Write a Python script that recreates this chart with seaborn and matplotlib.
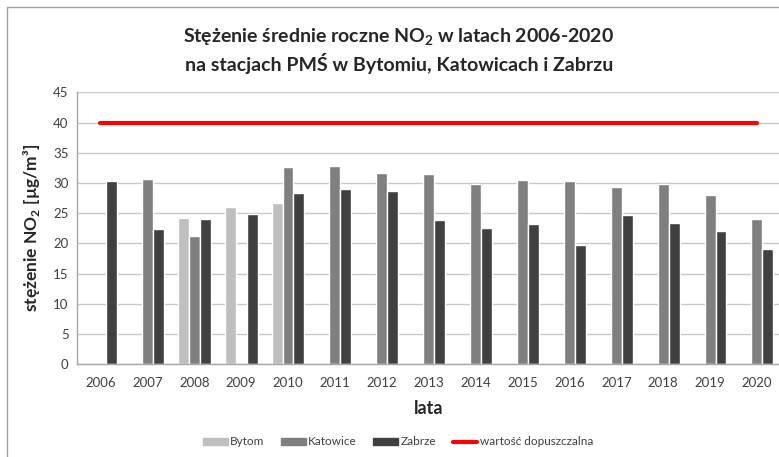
import matplotlib
matplotlib.use('Agg')
import matplotlib.pyplot as plt
import matplotlib.patches as mpatches
from matplotlib.lines import Line2D
import seaborn as sns
import pandas as pd
import numpy as np

# data
years = ['2006', '2007', '2008', '2009', '2010', '2011', '2012', '2013',
         '2014', '2015', '2016', '2017', '2018', '2019', '2020']
bytom = [np.nan, np.nan, 24.2, 26.1, 26.7, np.nan, np.nan, np.nan,
         np.nan, np.nan, np.nan, np.nan, np.nan, np.nan, np.nan]
katowice = [np.nan, 30.6, 21.2, np.nan, 32.6, 32.8, 31.7, 31.5,
            29.8, 30.5, 30.3, 29.3, 29.8, 28.0, 24.0]
zabrze = [30.4, 22.4, 24.1, 24.9, 28.3, 29.0, 28.6, 23.9,
          22.5, 23.2, 19.7, 24.7, 23.3, 22.0, 19.1]
limit = [40] * len(years)

stations = ['Bytom', 'Katowice', 'Zabrze']
colors = ['#BFBFBF', '#7F7F7F', '#404040']
limit_label = 'wartość dopuszczalna'

df = pd.DataFrame({'rok': years * 3,
                   'stacja': np.repeat(stations, len(years)),
                   'wartosc': bytom + katowice + zabrze})

sns.set_theme(style='white')
plt.rcParams['font.family'] = ['Lato', 'DejaVu Sans']
plt.rcParams['mathtext.fontset'] = 'custom'
plt.rcParams['mathtext.rm'] = 'Lato'
plt.rcParams['mathtext.bf'] = 'Lato:bold'

fig = plt.figure(figsize=(7.79, 4.57), dpi=100)
ax = fig.add_axes([0.0988, 0.2028, 0.903, 0.5952])

sns.barplot(data=df, x='rok', y='wartosc', hue='stacja', hue_order=stations,
            palette=colors, width=0.7, saturation=1, ax=ax, legend=False)

ax.plot(np.arange(len(years)), limit, color='#FF0000', lw=3, zorder=5)

ax.set_ylim(0, 45)
ax.set_yticks(range(0, 46, 5))
ax.set_xlim(-0.5, len(years) - 0.5)
ax.yaxis.grid(True, color='#C8C8C8', lw=1)
ax.set_axisbelow(True)
for s in ['top', 'right']:
    ax.spines[s].set_visible(False)
for s in ['left', 'bottom']:
    ax.spines[s].set_color('#A6A6A6')
    ax.spines[s].set_linewidth(1)
ax.tick_params(axis='both', length=0, labelsize=9.5, labelcolor='#404040', pad=6)
ax.tick_params(axis='x', pad=9)

ax.set_xlabel('lata', fontsize=13, fontweight='bold', labelpad=8)
ax.set_ylabel(r'stężenie NO$_\mathbf{2}$ [µg/m³]', fontsize=12.5, fontweight='bold', labelpad=8)

fig.text(0.512, 0.918, r'Stężenie średnie roczne NO$_\mathbf{2}$ w latach 2006-2020',
         ha='center', va='center', fontsize=14, fontweight='bold')
fig.text(0.512, 0.862, 'na stacjach PMŚ w Bytomiu, Katowicach i Zabrzu',
         ha='center', va='center', fontsize=14, fontweight='bold')

handles = [mpatches.Patch(color=c, label=n) for c, n in zip(colors, stations)]
handles.append(Line2D([], [], color='#FF0000', lw=3, label=limit_label))
fig.legend(handles=handles, loc='center', bbox_to_anchor=(0.511, 0.033), ncol=4,
           frameon=False, fontsize=8.5, handlelength=2.1, handleheight=0.5,
           handletextpad=0.2, columnspacing=1.4, labelcolor='#404040')

# chart border
fig.patches.append(mpatches.Rectangle((0.009, -0.05), 1.1, 1.035, transform=fig.transFigure,
                                      fill=False, edgecolor='#A0A0A0', lw=1))

fig.savefig('out.png', dpi=100)
